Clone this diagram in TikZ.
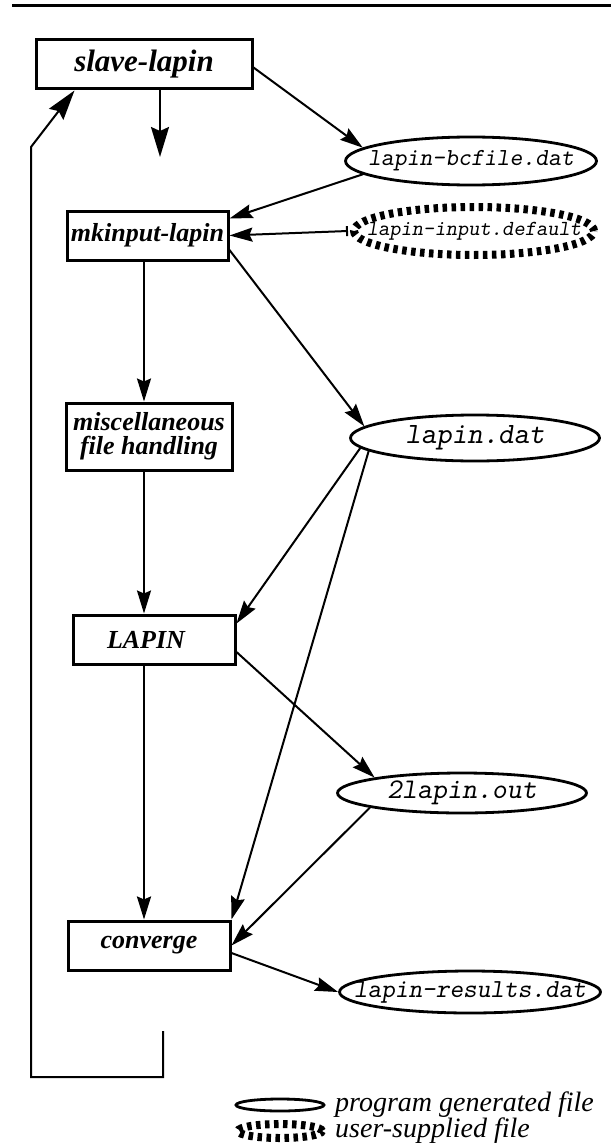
\documentclass[tikz,border=0pt]{standalone}
\usepackage{fontspec}
\setmainfont{Liberation Serif}
\usetikzlibrary{arrows.meta,shapes.geometric,calc}
% file names sit in a zero-width box so the ellipse keeps its own size
\newcommand\fname[2]{\makebox[0pt]{\ttfamily\slshape\fontsize{#1}{#1}\selectfont #2}}
\begin{document}
\begin{tikzpicture}[x=1pt,y=-1pt,
  ahead/.tip={Stealth[length=23pt,width=14pt,inset=3pt]},
  bighead/.tip={Stealth[length=30pt,width=18pt,inset=4pt]},
  prog/.style={draw,line width=3pt,inner sep=0pt,minimum height=49pt,
    font=\bfseries\itshape\fontsize{26}{24}\selectfont},
  file/.style={draw,ellipse,line width=2.8pt,inner sep=0pt},
  userfile/.style={draw,ellipse,line width=8pt,dash pattern=on 4.5pt off 4.5pt,inner sep=0pt},
  conn/.style={line width=2pt,-{ahead}},
  spineconn/.style={line width=2.6pt,-{ahead}},
  loopline/.style={line width=2pt,-{bighead}},
  legendtext/.style={anchor=west,inner sep=0pt,font=\itshape\fontsize{28}{28}\selectfont}]
\useasboundingbox (0,0) rectangle (611,1145);

% header rule
\draw[line width=3pt] (12,6) -- (611,6);

% programs
\node[prog,minimum width=216pt,font=\bfseries\itshape\fontsize{31}{31}\selectfont] (sl) at (144,64.5) {slave-lapin};
\node[prog,minimum width=161pt] (mk) at (147.5,235.5) {mkinput-lapin};
\node[prog,minimum width=166pt,minimum height=67pt,align=center] (misc) at (149,436.5) {miscellaneous\\file handling};
\node[prog,minimum width=162pt] (lp) at (154,639.5) {LAPIN\kern16pt};
\node[prog,minimum width=162pt] (cv) at (149,945.5) {converge};

% files
\node[file,minimum width=251pt,minimum height=48pt] (bc) at (471,161) {\fname{24.5}{lapin-bcfile.dat}};
\node[userfile,minimum width=240pt,minimum height=48pt] (df) at (474,231) {\fname{21.5}{lapin-input.default}};
\node[file,minimum width=249pt,minimum height=46pt] (ld) at (475,438) {\fname{29.5}{lapin.dat}};
\node[file,minimum width=249pt,minimum height=40pt] (lo) at (462,793) {\fname{28.5}{2lapin.out}};
\node[file,minimum width=261pt,minimum height=42pt] (rs) at (470,992) {\fname{26}{lapin-results.dat}};

% helper points
\coordinate (spine) at (144,0);
\coordinate (slEnd) at (160,157);
\coordinate (loopA) at (163,1031);
\coordinate (loopB) at (31,1077);
\coordinate (loopC) at (31,147);

% data flow
\draw[conn] ($(sl.east)+(0,3)$) -- (bc.173.5);
\draw[conn] (bc.187) -- ($(mk.north east)+(0,9)$);
\draw[line width=2pt,{Bar[width=10pt,line width=2pt]}-{ahead}] ($(df.west)+(-2,0)$) -- (mk.east);
\draw[conn] ($(mk.east)+(0,14.5)$) -- (ld.174);
\draw[conn] (ld.185) -- ($(lp.north east)+(0,10)$);
\draw[conn] (ld.187) -- (cv.north east);
\draw[conn] ($(lp.east)+(0,12.5)$) -- (lo.170);
\draw[conn] (lo.189) -- (cv.east);
\draw[conn] ($(cv.east)+(0,7.5)$) -- (rs.west);

% control flow
\draw[loopline] ($(sl.south)+(16,0)$) -- (slEnd);
\draw[conn] (mk.south -| spine) -- (misc.north -| spine);
\draw[conn] (misc.south -| spine) -- (lp.north -| spine);
\draw[spineconn] (lp.south -| spine) -- (cv.north -| spine);
\draw[loopline] (loopA) |- (loopB) -- (loopC) -- ($(sl.south west)+(40,0)$);

% legend
\node[file,minimum width=88pt,minimum height=12pt] (legA) at (280,1105) {};
\node[userfile,minimum width=84pt,minimum height=14pt] (legB) at (280,1131) {};
\node[legendtext] (legAt) at (335,1105) {program generated file};
\node[legendtext] (legBt) at (335,1131) {user-supplied file};
\end{tikzpicture}
\end{document}
